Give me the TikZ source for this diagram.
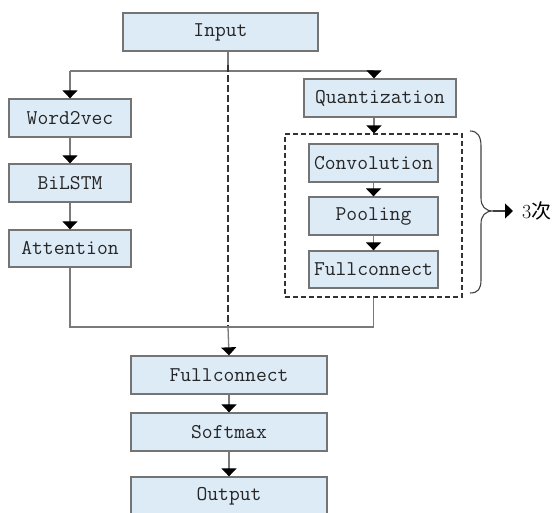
\documentclass[tikz,border=0pt]{standalone}
\usepackage{fontspec}
\newfontfamily\cjk{Noto Sans CJK SC}
\usetikzlibrary{arrows.meta}
\definecolor{boxfill}{HTML}{DDEBF7}
\definecolor{boxline}{HTML}{747474}
\definecolor{linkgray}{HTML}{7A7A7A}
\tikzset{
  blk/.style={draw=boxline, line width=1.3pt, fill=boxfill, inner sep=0pt,
    font=\ttfamily\fontsize{21}{22}\selectfont, text=black!85},
  link/.style={draw=linkgray, line width=1.3pt},
  tipblack/.style={-{Triangle[width=15pt,length=8pt,fill=black,color=black]}},
}
\begin{document}
\begin{tikzpicture}[x=1pt,y=-1pt]
\useasboundingbox (0,0) rectangle (558,513);

% boxes
\node[blk, minimum width=195pt, minimum height=38pt] (inp) at (220.5,32) {Input};
\node[blk, minimum width=122pt, minimum height=38pt] (w2v) at (70,118) {Word2vec};
\node[blk, minimum width=122pt, minimum height=38pt] (lstm) at (70,183) {BiLSTM};
\node[blk, minimum width=122pt, minimum height=37pt] (att) at (70,248.5) {Attention};
\node[blk, minimum width=152pt, minimum height=38pt] (quant) at (380,98) {Quantization};
\node[draw=black!80, line width=1.2pt, dash pattern=on 5pt off 3pt,
      minimum width=177pt, minimum height=163pt, inner sep=0pt] (loop) at (373.5,215.5) {};
\node[blk, minimum width=129pt, minimum height=38pt] (conv) at (373.5,163) {Convolution};
\node[blk, minimum width=129pt, minimum height=38pt] (pool) at (373.5,216) {Pooling};
\node[blk, minimum width=129pt, minimum height=37pt] (fcin) at (373.5,269.5) {Fullconnect};
\node[blk, minimum width=196pt, minimum height=38pt] (fc) at (229,375) {Fullconnect};
\node[blk, minimum width=196pt, minimum height=38pt] (soft) at (229,432) {Softmax};
\node[blk, minimum width=196pt, minimum height=38pt] (out) at (229,496) {Output};
\node[anchor=west, inner sep=0pt, font=\fontsize{20}{20}\selectfont] (times) at (522,211) {3{\cjk 次}};

% junctions
\coordinate (split) at (228,71);
\coordinate (lsplit) at (70,71);
\coordinate (rsplit) at (374,71);
\coordinate (skip) at (228,65);
\coordinate (merge) at (228,327);
\coordinate (lmerge) at (70,327);
\coordinate (rmerge) at (373.5,327);
\coordinate (bt) at (493,211);

% fan-out from the input
\draw[link] (inp.south -| split) -- (split);
\draw[link] (lsplit) -- (rsplit);
\draw[link, tipblack] (lsplit) -- (w2v.north);
\draw[link, tipblack] (rsplit) -- (quant.north -| rsplit);

% left branch
\draw[link, tipblack] (w2v) -- (lstm);
\draw[link, tipblack] (lstm) -- (att);

% right branch
\draw[link, tipblack] (quant.south -| rsplit) -- (loop.north -| rsplit);
\draw[link, tipblack] (conv) -- (pool);
\draw[link, tipblack] (pool) -- (fcin);

% skip connection
\draw[black!80, line width=1.1pt, dash pattern=on 7pt off 3pt] (skip) -- (merge);

% merge
\draw[link] (att.south) -- (lmerge) -- (merge);
\draw[link] (loop.south) -- (rmerge) -- (merge);
\draw[link, tipblack] (merge) -- (fc.north);
\draw[link, tipblack] (fc) -- (soft);
\draw[link, tipblack] (soft) -- (out);

% repeat brace
\draw[black!75, line width=1.1pt]
  (470,131) .. controls (478,131) and (481,137) .. (481,146)
  -- (481,198) .. controls (481,206) and (485,211) .. (bt)
  .. controls (485,211) and (481,216) .. (481,224)
  -- (481,280) .. controls (481,289) and (478,293) .. (470,293);
\draw[black!75, line width=1.1pt, tipblack] (bt) -- ([xshift=-9pt]times.west);
\end{tikzpicture}
\end{document}
